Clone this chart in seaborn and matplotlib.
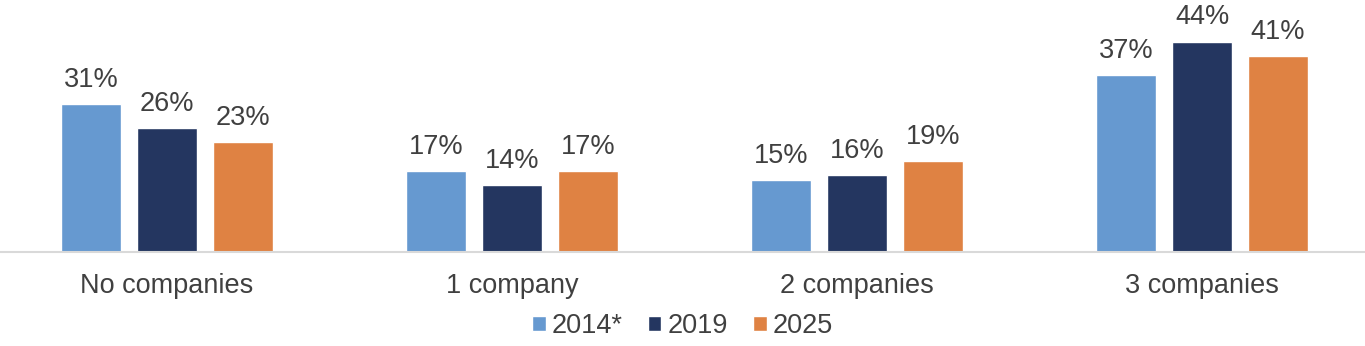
import matplotlib
matplotlib.use("Agg")
import matplotlib.pyplot as plt
import seaborn as sns
import pandas as pd

categories = ["No companies", "1 company", "2 companies", "3 companies"]
years = ["2014*", "2019", "2025"]
values_2014 = [31, 17, 15, 37]
values_2019 = [26, 14, 16, 44]
values_2025 = [23, 17, 19, 41]
colors = ["#6699D0", "#243660", "#DF8243"]

rows = []
for yr, vals in zip(years, [values_2014, values_2019, values_2025]):
    for c, v in zip(categories, vals):
        rows.append({"category": c, "year": yr, "value": v})
df = pd.DataFrame(rows)

sns.set_theme(style="white")
plt.rcParams["font.family"] = ["Liberation Sans", "DejaVu Sans"]
text_color = "#404040"
fs = 19.5

fig = plt.figure(figsize=(13.65, 3.46), dpi=100)
ax = fig.add_axes([0, 94 / 346, 1, 252 / 346])
sns.barplot(data=df, x="category", y="value", hue="year", order=categories,
            hue_order=years, palette=colors, width=0.66, gap=0.2,
            saturation=1, ax=ax, legend=True)

for cont in ax.containers:
    ax.bar_label(cont, labels=[f"{int(v)}%" for v in cont.datavalues],
                 padding=8, fontsize=fs, color=text_color)

ax.set_xlim(-167 / 345, 3 + 163 / 345)
ax.set_ylim(0, 52.7)
ax.set_xlabel("")
ax.set_ylabel("")
ax.set_yticks([])
for s in ["top", "right", "left"]:
    ax.spines[s].set_visible(False)
ax.spines["bottom"].set_color("#D9D9D9")
ax.spines["bottom"].set_linewidth(1.5)
ax.tick_params(axis="x", length=0, pad=15, labelsize=fs, labelcolor=text_color)

handles, labels = ax.get_legend_handles_labels()
ax.legend_.remove()
fig.legend(handles, labels, loc="center", bbox_to_anchor=(0.5, 20 / 346), ncol=3,
           frameon=False, fontsize=fs, handlelength=0.5, handleheight=0.5,
           handletextpad=0.22, columnspacing=0.93, labelcolor=text_color)

fig.savefig("out.png", dpi=100)
